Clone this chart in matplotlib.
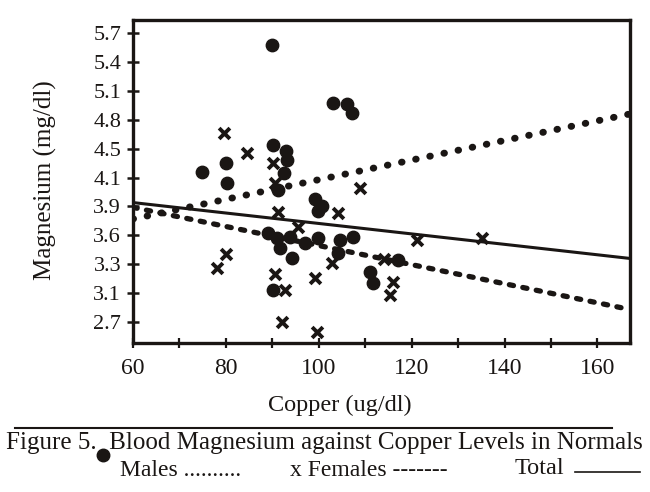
import matplotlib
matplotlib.use("Agg")
import matplotlib.pyplot as plt
from matplotlib.lines import Line2D

plt.rcParams['font.family'] = ['Liberation Serif', 'DejaVu Serif']

# Males (circles): copper, magnesium
male_cu = [90, 103.1, 106.1, 107.1, 74.9, 80.0, 80.2, 90.1, 92.9, 93.2, 92.5,
           91.2, 99.2, 100.7, 99.8, 89.1, 91.0, 91.6, 93.8, 94.2, 90.1, 97.0,
           99.8, 104.6, 107.4, 104.1, 117.1, 111.0, 111.7]
male_mg = [5.58, 4.97, 4.96, 4.87, 4.26, 4.35, 4.14, 4.54, 4.48, 4.38, 4.25,
           4.07, 3.98, 3.90, 3.85, 3.62, 3.57, 3.47, 3.58, 3.36, 3.03, 3.52,
           3.57, 3.55, 3.58, 3.42, 3.34, 3.22, 3.10]

# Females (crosses)
female_cu = [79.6, 84.5, 90.1, 90.6, 91.2, 95.5, 104.1, 108.9, 80.0, 78.1,
             90.6, 92.7, 92.1, 99.6, 99.2, 102.8, 114.0, 116.0, 115.3, 121.1,
             135.1]
female_mg = [4.66, 4.45, 4.35, 4.14, 3.84, 3.69, 3.83, 4.09, 3.41, 3.26,
             3.20, 3.03, 2.70, 2.60, 3.16, 3.31, 3.35, 3.12, 2.98, 3.55,
             3.57]

# regression lines (end points)
fit_cu = [60, 167]
male_fit = [3.77, 4.86]
female_fit = [3.89, 2.83]
total_fit = [3.94, 3.36]

ytick_vals = [2.7, 3.0, 3.3, 3.6, 3.9, 4.2, 4.5, 4.8, 5.1, 5.4, 5.7]
ytick_labels = ['2.7', '3.1', '3.3', '3.6', '3.9', '4.1', '4.5', '4.8',
                '5.1', '5.4', '5.7']
xtick_vals = [60, 80, 100, 120, 140, 160]

ink = '#1a1614'

fig = plt.figure(figsize=(6.5, 4.92), dpi=100)
ax = fig.add_axes([0.2046, 0.3028, 0.7646, 0.6565])

ax.plot(fit_cu, total_fit, color=ink, lw=2.2, solid_capstyle='butt')
ax.plot(fit_cu, male_fit, color=ink, lw=5.0,
        linestyle=(0, (0.08, 2.0)), dash_capstyle='round')
ax.plot(fit_cu, female_fit, color=ink, lw=3.8,
        linestyle=(0, (0.8, 1.8)), dash_capstyle='round')

ax.scatter(male_cu, male_mg, s=80, color=ink, zorder=3)
ax.scatter(female_cu, female_mg, s=60, marker='x', color=ink,
           linewidths=2.8, zorder=3)

ax.set_xlim(60, 167)
ax.set_ylim(2.482, 5.835)
ax.set_yticks(ytick_vals)
ax.set_yticklabels(ytick_labels)
ax.set_xticks(xtick_vals)
ax.set_xticks(range(70, 170, 20), minor=True)

for s in ax.spines.values():
    s.set_linewidth(2.4)
    s.set_color(ink)
ax.tick_params(axis='y', direction='inout', length=9, width=1.8,
               labelsize=16, pad=4, colors=ink)
ax.tick_params(axis='x', which='both', direction='inout', length=7,
               width=1.6, labelsize=17, pad=7, colors=ink)

fig.text(45 / 650, 1 - 180 / 492, 'Magnesium (mg/dl)', rotation=90,
         ha='center', va='center', fontsize=18, color=ink)
fig.text(340 / 650, 1 - 405 / 492, 'Copper (ug/dl)', ha='center',
         va='center', fontsize=17.5, color=ink)

fig.add_artist(Line2D([15 / 650, 612 / 650], [1 - 428 / 492, 1 - 428 / 492],
                      color=ink, lw=1.5))
fig.text(324 / 650, 1 - 443 / 492,
         'Figure 5.  Blood Magnesium against Copper Levels in Normals',
         ha='center', va='center', fontsize=18, color=ink)

fig.add_artist(Line2D([103 / 650], [1 - 455 / 492], marker='o',
                      markersize=9, color=ink))
fig.text(120 / 650, 1 - 470 / 492, 'Males ..........', ha='left',
         va='center', fontsize=17, color=ink)
fig.text(290 / 650, 1 - 470 / 492, 'x Females -------', ha='left',
         va='center', fontsize=17, color=ink)
fig.text(515 / 650, 1 - 468 / 492, 'Total', ha='left',
         va='center', fontsize=17.5, color=ink)
fig.add_artist(Line2D([575 / 650, 640 / 650], [1 - 472 / 492, 1 - 472 / 492],
                      color=ink, lw=1.2))

fig.savefig('out.png', dpi=100)
